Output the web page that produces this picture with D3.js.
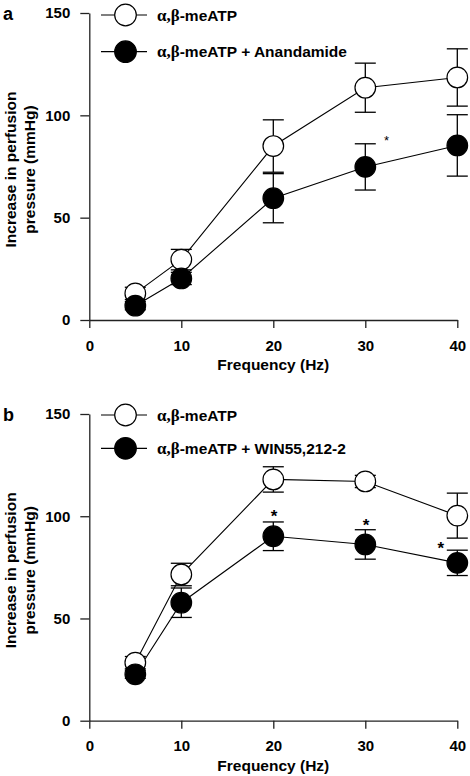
<!DOCTYPE html>
<html>
<head>
<meta charset="utf-8">
<script src="https://cdn.jsdelivr.net/npm/d3@7"></script>
<style>
  html, body { margin: 0; padding: 0; background: #fff; }
  svg { display: block; }
  text { font-family: "Liberation Sans", Arial, Helvetica, sans-serif; font-weight: bold; fill: #000; }
</style>
</head>
<body>
<script>
// ---- data ----
const frequencies = [5, 10, 20, 30, 40];
const xTicks = [0, 10, 20, 30, 40];
const yTicks = [0, 50, 100, 150];

// panel a
const aControl = [13, 29.5, 85, 113.5, 118.5];
const aControlErr = [3, 5, 12.8, 12, 14];
const aTreated = [7, 20.3, 59.5, 74.8, 85.3];
const aTreatedErr = [2, 3, 12, 11.3, 15];
const aStars = [{ f: 32.3, v: 89.6 }];

// panel b
const bControl = [28.4, 71.5, 118, 117, 100.3];
const bControlErr = [3, 5.5, 6.2, 3, 11];
const bTreated = [22.7, 57.7, 90.2, 86.2, 77.2];
const bTreatedErr = [2, 7.2, 7, 7.2, 6.2];
const bStars = [{ f: 20.07, v: 102.3 }, { f: 30.08, v: 97.8 }, { f: 38.2, v: 86.4 }];

const legendControl = "-meATP";
const legendA = "-meATP + Anandamide";
const legendB = "-meATP + WIN55,212-2";

const W = 470, H = 776;
const svg = d3.select("body").append("svg").attr("width", W).attr("height", H);

function panel(opt) {
  const x = d3.scaleLinear().domain([0, 40]).range([89.3, 457.3]);
  const y = d3.scaleLinear().domain([0, 150]).range([opt.y0, opt.y150]);
  const g = svg.append("g");

  // y axis
  const ya = g.append("g").attr("transform", `translate(${x(0)},0)`)
    .call(d3.axisLeft(y).tickValues(yTicks).tickSize(9).tickSizeOuter(0).tickPadding(10));
  // x axis
  const xa = g.append("g").attr("transform", `translate(0,${y(0)})`)
    .call(d3.axisBottom(x).tickValues(xTicks).tickSize(8).tickSizeOuter(0).tickPadding(12));
  [ya, xa].forEach(a => {
    a.selectAll("path,line").attr("stroke", "#222").attr("stroke-width", 1.3);
    a.selectAll("text").style("font-size", "15px").attr("font-family", null);
  });

  // axis titles
  const cy = (y(0) + y(150)) / 2 + 3;
  const yl = g.append("text").attr("transform", `translate(10,${cy}) rotate(-90)`)
    .attr("text-anchor", "middle").style("font-size", "15.5px");
  yl.append("tspan").attr("x", 0).attr("dy", "0.36em").text("Increase in perfusion");
  yl.append("tspan").attr("x", 0).attr("dy", "1.28em").text("pressure (mmHg)");
  g.append("text").attr("x", x(20)).attr("y", y(0) + 50).attr("text-anchor", "middle")
    .style("font-size", "15.5px").text("Frequency (Hz)");

  // panel letter
  g.append("text").attr("x", 3).attr("y", y(150) + 7).style("font-size", "18px").text(opt.letter);

  const r = 10.3, cap = 10.5;
  const series = [
    { vals: opt.control, err: opt.controlErr, fill: "#fff" },
    { vals: opt.treated, err: opt.treatedErr, fill: "#000" }
  ];
  const line = d3.line().x((d, i) => x(frequencies[i])).y(d => y(d));
  series.forEach(s => {
    g.append("path").attr("d", line(s.vals)).attr("fill", "none").attr("stroke", "#000").attr("stroke-width", 1.1);
  });
  series.forEach(s => {
    const eg = g.append("g").attr("stroke", "#000").attr("stroke-width", 1.3);
    s.vals.forEach((v, i) => {
      const cx = x(frequencies[i]);
      const t = y(v + s.err[i]), b = y(v - s.err[i]);
      eg.append("line").attr("x1", cx).attr("x2", cx).attr("y1", t).attr("y2", b);
      eg.append("line").attr("x1", cx - cap).attr("x2", cx + cap).attr("y1", t).attr("y2", t);
      eg.append("line").attr("x1", cx - cap).attr("x2", cx + cap).attr("y1", b).attr("y2", b);
    });
  });
  series.forEach(s => {
    g.append("g").selectAll("circle").data(s.vals).join("circle")
      .attr("cx", (d, i) => x(frequencies[i])).attr("cy", d => y(d)).attr("r", r)
      .attr("fill", s.fill).attr("stroke", "#000").attr("stroke-width", 1.2);
  });

  // stars
  g.append("g").selectAll("text").data(opt.stars).join("text")
    .attr("x", d => x(d.f)).attr("y", d => y(d.v) + opt.starDy)
    .attr("text-anchor", "middle").style("font-size", opt.starSize)
    .style("font-weight", opt.starWeight).text("*");

  // legend
  opt.legend.forEach((L, i) => {
    const ly = L.y;
    g.append("line").attr("x1", 101).attr("x2", 147).attr("y1", ly).attr("y2", ly)
      .attr("stroke", "#000").attr("stroke-width", 1.2);
    g.append("circle").attr("cx", 125.5).attr("cy", ly).attr("r", 10.8)
      .attr("fill", series[i].fill).attr("stroke", "#000").attr("stroke-width", 1.2);
    const t = g.append("text").attr("x", 157).attr("y", ly + 5.5).style("font-size", "15.5px");
    t.append("tspan").style("font-family", "'Liberation Serif', 'Times New Roman', serif")
      .style("font-weight", "bold").style("font-size", "17px").text("α,β");
    t.append("tspan").text(L.label);
  });
}

panel({
  letter: "a", y0: 320, y150: 13,
  control: aControl, controlErr: aControlErr,
  treated: aTreated, treatedErr: aTreatedErr,
  stars: aStars, starSize: "13px", starWeight: "normal", starDy: 8,
  legend: [{ y: 15, label: legendControl }, { y: 51.7, label: legendA }]
});
panel({
  letter: "b", y0: 720.7, y150: 414,
  control: bControl, controlErr: bControlErr,
  treated: bTreated, treatedErr: bTreatedErr,
  stars: bStars, starSize: "17px", starWeight: "bold", starDy: 10,
  legend: [{ y: 415, label: legendControl }, { y: 448.3, label: legendB }]
});
</script>
</body>
</html>
